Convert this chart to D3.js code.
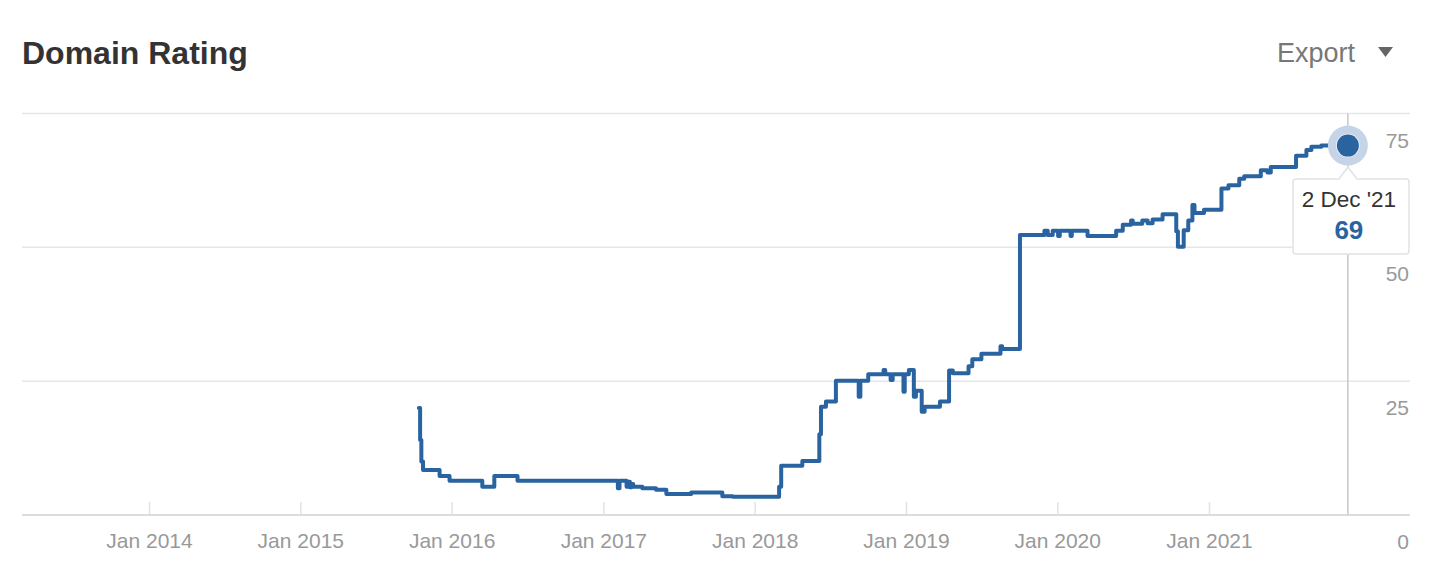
<!DOCTYPE html>
<html>
<head>
<meta charset="utf-8">
<script src="https://cdn.jsdelivr.net/npm/d3@7"></script>
<style>
  body { margin: 0; background: #fff; }
  svg { display: block; font-family: "Liberation Sans", Arial, Helvetica, sans-serif; }
</style>
</head>
<body>
<svg id="chart" width="1450" height="588"></svg>
<script>
// ---- data ----
const dates = [
  "2015-10-14","2015-10-17","2015-10-20","2015-10-24","2015-12-03","2015-12-27",
  "2016-03-15","2016-04-13","2016-06-08",
  "2017-02-05","2017-02-09","2017-02-26","2017-03-02","2017-03-06","2017-03-10","2017-03-14",
  "2017-04-05","2017-05-08","2017-06-02","2017-08-01","2017-10-15","2017-11-09",
  "2018-03-01","2018-03-06","2018-04-26","2018-06-06","2018-06-10","2018-06-22","2018-07-16",
  "2018-09-09","2018-09-13","2018-10-02","2018-11-08","2018-11-12","2018-11-25","2018-11-30",
  "2018-12-26","2018-12-29",
  "2019-01-08","2019-01-20","2019-01-25","2019-02-08","2019-02-15","2019-03-24","2019-04-15",
  "2019-04-24","2019-06-01","2019-06-10","2019-07-02","2019-08-17","2019-08-21","2019-10-03",
  "2019-12-01","2019-12-09","2019-12-21",
  "2020-01-03","2020-01-07","2020-02-02","2020-02-05","2020-03-14","2020-05-22","2020-06-07",
  "2020-06-27","2020-07-01","2020-07-24","2020-08-06","2020-08-18","2020-09-11","2020-10-14",
  "2020-10-18","2020-11-01","2020-11-12","2020-11-22","2020-11-27","2020-12-20",
  "2021-01-31","2021-02-17","2021-03-15","2021-03-27","2021-05-06","2021-05-22","2021-05-30",
  "2021-07-30","2021-08-24","2021-09-05","2021-09-29","2021-12-02"
];
const values = [
  20.0,14.0,10.0,8.4,7.3,6.4,
  5.3,7.3,6.4,
  5.0,6.4,5.3,6.2,5.2,5.8,5.3,
  5.0,4.7,3.9,4.2,3.5,3.4,
  5.3,9.2,10.1,15.1,20.2,21.2,25.1,
  22.1,25.1,26.3,27.1,26.3,25.2,26.3,
  23.0,26.3,
  27.1,22.1,23.2,19.3,20.2,21.2,27.0,
  26.5,27.8,29.1,30.1,31.5,31.0,52.3,
  53.1,52.3,53.1,
  52.1,53.1,52.1,53.1,52.1,53.1,54.2,
  55.0,54.4,55.0,54.5,55.2,56.2,53.0,
  50.1,53.2,55.0,57.9,56.4,57.0,
  61.0,61.6,62.8,63.3,64.4,64.0,65.0,
  67.1,68.2,68.8,69.0,69.0
];
const xTickDates = ["2014-01-01","2015-01-01","2016-01-01","2017-01-01","2018-01-01","2019-01-01","2020-01-01","2021-01-01"];
const yTicks = [0, 25, 50, 75];
const title = "Domain Rating";
const exportLabel = "Export";
const tooltipDate = "2 Dec '21";
const tooltipValue = 69;
const hoverDate = "2021-12-02";

// ---- setup ----
const parse = d3.utcParse("%Y-%m-%d");
const data = dates.map((d, i) => ({ date: parse(d), value: values[i] }));
const svg = d3.select("#chart");
const left = 22, right = 1410;
const blue = "#2a64a0";

const x = d3.scaleUtc()
  .domain([parse("2014-01-01"), parse("2021-01-01")])
  .range([149, 1209]);
const y = d3.scaleLinear().domain([0, 75]).range([515, 113.5]);

// title
svg.append("text").attr("x", 22).attr("y", 64)
  .attr("font-size", 32).attr("font-weight", "bold").attr("fill", "#333")
  .text(title);
svg.append("text").attr("x", 1277).attr("y", 62)
  .attr("font-size", 27).attr("fill", "#777").text(exportLabel);
svg.append("path").attr("d", "M1378,47 L1393,47 L1385.5,57 Z").attr("fill", "#666");

// gridlines
svg.append("g").selectAll("line").data(yTicks.filter(t => t > 0)).join("line")
  .attr("x1", left).attr("x2", right)
  .attr("y1", d => y(d)).attr("y2", d => y(d))
  .attr("stroke", "#e6e6e6").attr("stroke-width", 1.5);

// x axis
const xAxis = d3.axisBottom(x)
  .tickValues(xTickDates.map(parse))
  .tickFormat(d3.utcFormat("Jan %Y"))
  .tickSize(0).tickPadding(0);
const gx = svg.append("g").attr("transform", "translate(0,515)").call(xAxis);
gx.select(".domain").remove();
gx.selectAll(".tick text").attr("y", 33).attr("dy", 0)
  .attr("font-size", 21).attr("fill", "#999").attr("font-family", null);
gx.selectAll(".tick").append("line")
  .attr("y1", -13).attr("y2", 0).attr("stroke", "#e3e3e3").attr("stroke-width", 1.5);
svg.append("line").attr("x1", left).attr("x2", right).attr("y1", 515).attr("y2", 515)
  .attr("stroke", "#dcdcdc").attr("stroke-width", 2);

// y axis labels (right, below gridline)
const yAxis = d3.axisRight(y).tickValues(yTicks).tickSize(0).tickPadding(0);
const gy = svg.append("g").attr("transform", `translate(${right - 1},0)`).call(yAxis);
gy.select(".domain").remove();
gy.selectAll(".tick text").attr("x", 0).attr("dy", 0).attr("y", 33.5)
  .attr("text-anchor", "end").attr("font-size", 21).attr("fill", "#999").attr("font-family", null);

// crosshair
const hx = x(parse(hoverDate));
svg.append("line").attr("x1", hx).attr("x2", hx).attr("y1", y(75)).attr("y2", 515)
  .attr("stroke", "#c8c8c8").attr("stroke-width", 1.5);

// line
const line = d3.line().x(d => x(d.date)).y(d => y(d.value)).curve(d3.curveStepAfter);
svg.append("path").datum(data).attr("d", line)
  .attr("fill", "none").attr("stroke", blue).attr("stroke-width", 4)
  .attr("stroke-linejoin", "round").attr("stroke-linecap", "round");

// hover point
const hy = y(tooltipValue);
svg.append("circle").attr("cx", hx).attr("cy", hy).attr("r", 20).attr("fill", "#c6d4e7");
svg.append("circle").attr("cx", hx).attr("cy", hy).attr("r", 12).attr("fill", "#fff").attr("opacity", 0.6);
svg.append("circle").attr("cx", hx).attr("cy", hy).attr("r", 11).attr("fill", blue);

// tooltip
const tt = svg.append("g");
const bx0 = 1293, bx1 = 1409, by0 = 179, by1 = 254;
tt.append("path")
  .attr("d", `M${bx0 + 3},${by0} L${hx - 9},${by0} L${hx},${by0 - 12} L${hx + 9},${by0} L${bx1 - 3},${by0} Q${bx1},${by0} ${bx1},${by0 + 3} L${bx1},${by1 - 3} Q${bx1},${by1} ${bx1 - 3},${by1} L${bx0 + 3},${by1} Q${bx0},${by1} ${bx0},${by1 - 3} L${bx0},${by0 + 3} Q${bx0},${by0} ${bx0 + 3},${by0} Z`)
  .attr("fill", "#fff").attr("stroke", "#e2e2e2").attr("stroke-width", 1.5);
tt.append("text").attr("x", hx + 1).attr("y", 207).attr("text-anchor", "middle")
  .attr("font-size", 22.5).attr("fill", "#333").text(tooltipDate);
tt.append("text").attr("x", hx + 1).attr("y", 239).attr("text-anchor", "middle")
  .attr("font-size", 26).attr("font-weight", "bold").attr("fill", blue).text(tooltipValue);
</script>
</body>
</html>
